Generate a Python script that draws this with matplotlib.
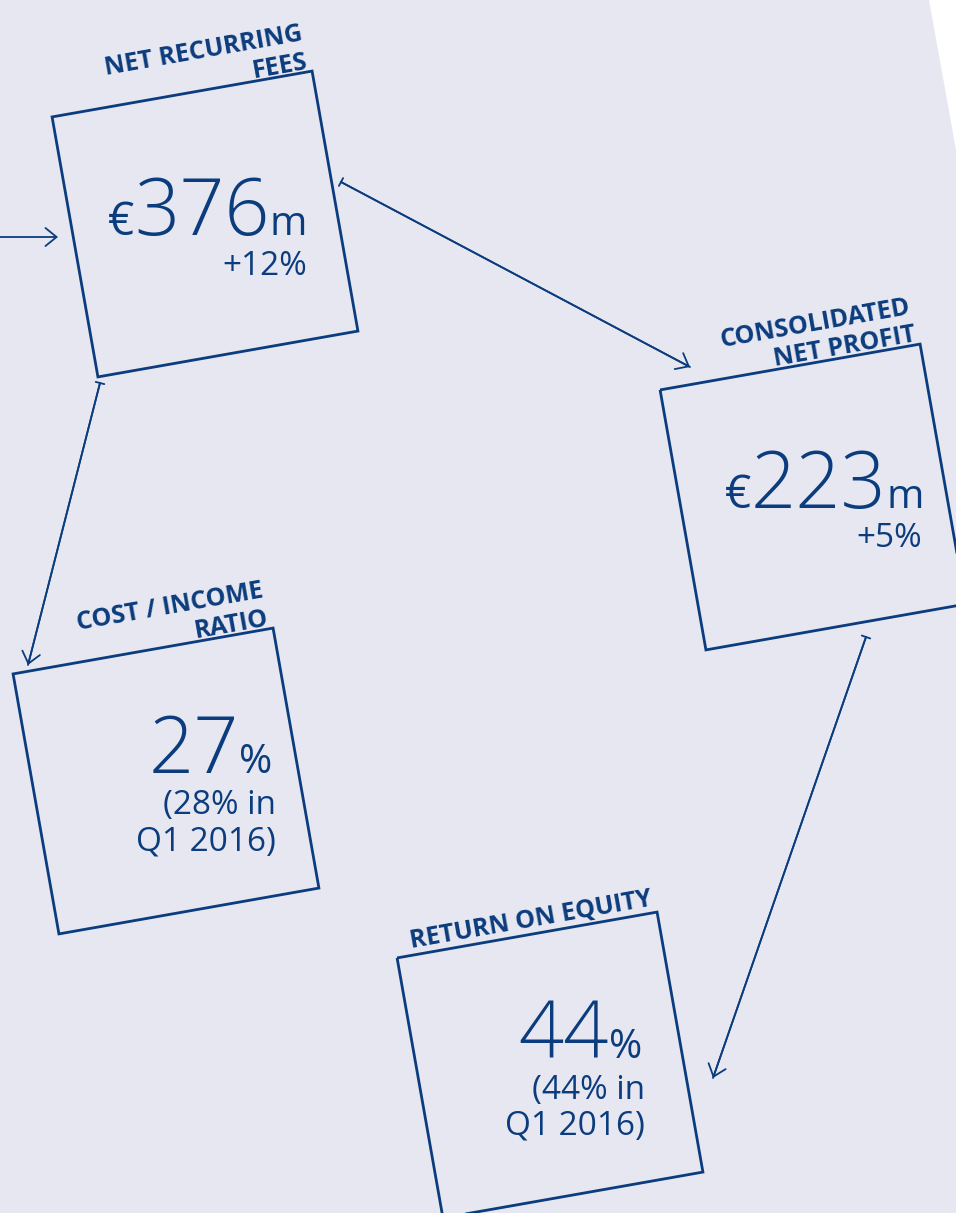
import numpy as np
import matplotlib.pyplot as plt
from matplotlib.patches import Polygon, FancyArrowPatch

plt.rcParams['font.family'] = ['Open Sans', 'DejaVu Sans']

# Key figures, one per box
titles = ["NET RECURRING\nFEES", "CONSOLIDATED\nNET PROFIT",
          "COST / INCOME\nRATIO", "RETURN ON EQUITY"]
prefixes = ["€", "€", "", ""]
values = ["376", "223", "27", "44"]
units = ["m", "m", "%", "%"]
notes = ["+12%", "+5%", "(28% in\nQ1 2016)", "(44% in\nQ1 2016)"]

# Layout in pixels (origin top left, y down)
box_centers = [(205, 224), (813, 497), (166, 781), (550, 1065)]
box_side = 264
box_angle = 10
value_pos = [(307, 235), (924, 508), (272, 773), (642, 1058)]
# right edge and baseline of the last line of each note
note_pos = [(307, 275), (922, 547), (276, 850), (645, 1135)]
# arrows: start, end, bar at start
arrows = [((-10, 237), (58, 237), False),
          ((341, 182), (690, 367), True),
          ((100, 383), (28, 665), True),
          ((866, 637), (713, 1078), True)]

navy = '#0B3C7D'
bg = '#E6E7F1'

fig = plt.figure(figsize=(9.56, 12.13), dpi=100)
fig.patch.set_facecolor('white')
ax = fig.add_axes([0, 0, 1, 1])
ax.set_xlim(0, 956)
ax.set_ylim(1213, 0)
ax.axis('off')

# background panel with slanted edge top right
ax.add_patch(Polygon([(0, 0), (929, 0), (956, 150), (956, 1213), (0, 1213)],
                     closed=True, facecolor=bg, edgecolor='none', zorder=0))

t = np.radians(box_angle)
u = np.array([np.cos(t), -np.sin(t)])   # along top edge
v = np.array([np.sin(t), np.cos(t)])    # down the side
h = box_side / 2

for i, c in enumerate(box_centers):
    c = np.array(c, dtype=float)
    corners = [c - h*u - h*v, c + h*u - h*v, c + h*u + h*v, c - h*u + h*v]
    ax.add_patch(Polygon(corners, closed=True, fill=False,
                         edgecolor=navy, lw=2.0, joinstyle='miter', zorder=2))

    # rotated title over the top right corner
    tx, ty = corners[1] - 7*v - 3*u
    ax.text(tx, ty, titles[i], rotation=box_angle, rotation_mode='anchor',
            ha='right', va='baseline', multialignment='right',
            fontsize=18, fontweight='bold', color=navy, linespacing=1.2)

    # big figure: prefix + value + unit, right aligned
    ux, uy = value_pos[i]
    ut = ax.text(ux, uy, units[i], ha='right', va='baseline',
                 fontsize=29, color=navy)
    vt = ax.annotate(values[i], xy=(0, uy), xycoords=(ut, 'data'),
                     ha='right', va='baseline', fontsize=57,
                     fontweight='light', color=navy)
    if prefixes[i]:
        ax.annotate(prefixes[i], xy=(0, uy), xycoords=(vt, 'data'),
                    ha='right', va='baseline', fontsize=33, color=navy)

    nx, ny = note_pos[i]
    ax.text(nx, ny, notes[i], ha='right', va='baseline', multialignment='right',
            fontsize=24, color=navy, linespacing=1.12)

for p0, p1, bar in arrows:
    ax.add_patch(FancyArrowPatch(p0, p1, arrowstyle='->,head_length=0.8,head_width=0.65',
                                 mutation_scale=10, color=navy, lw=1.3,
                                 shrinkA=0, shrinkB=0, zorder=3))
    if bar:
        ax.add_patch(FancyArrowPatch(p0, p1, arrowstyle=']-,widthA=0.32,lengthA=0',
                                     mutation_scale=10, color=navy, lw=1.3,
                                     shrinkA=0, shrinkB=0, zorder=3))

plt.savefig('out.png', dpi=100, facecolor=fig.get_facecolor())
